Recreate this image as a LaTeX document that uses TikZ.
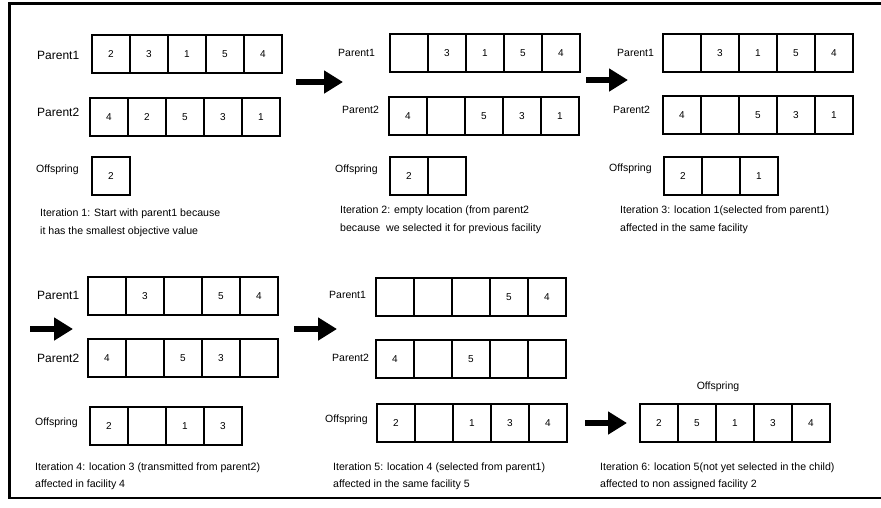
\documentclass[tikz,border=0pt]{standalone}
\usepackage{fontspec}
\setmainfont{Liberation Sans}
\usetikzlibrary{arrows.meta}

% one row of chromosome cells: name prefix, left x, top y, list of genes
\newcommand\generow[4]{%
  \foreach \g [count=\k] in {#4} {%
    \node[cell] (#1-\k) at ({#2+38*(\k-1)}, #3) {\g};
  }%
}

\begin{document}
\begin{tikzpicture}[x=1pt,y=-1pt,
  cell/.style={draw=black, line width=2.5pt, minimum width=38pt, minimum height=38pt,
    inner sep=0pt, outer sep=0pt, anchor=north west, font=\fontsize{10}{12}\selectfont},
  rowlabel/.style={anchor=west, inner sep=0pt, font=\fontsize{10.5}{13}\selectfont},
  widelabel/.style={rowlabel, font=\fontsize{12}{14}\selectfont},
  caption/.style={anchor=west, align=left, inner sep=0pt, font=\fontsize{10.6}{17.5}\selectfont},
  flow/.style={line width=6.5pt, -{Triangle[length=19pt,width=22pt]}},
  frame/.style={line width=2.5pt}]
\useasboundingbox (0,0) rectangle (881,507);

% outer frame (open on the right)
\coordinate (fTR) at (881,3.5);
\coordinate (fTL) at (9.5,3.5);
\coordinate (fBL) at (9.5,498);
\coordinate (fBR) at (881,498);
\draw[frame] (fTR) -- (fTL) -- (fBL) -- (fBR);

% ---------- iteration 1 ----------
\node[widelabel] (a-l1) at (37,55) {Parent1};
\node[widelabel] (a-l2) at (37,112) {Parent2};
\node[rowlabel] (a-l3) at (36,170) {Offspring};
\generow{a-p1}{92}{35}{2,3,1,5,4}
\generow{a-p2}{90}{98}{4,2,5,3,1}
\generow{a-o}{92}{157}{2}
\node[caption] (a-t) at (40,223) {Iteration 1: Start with parent1 because\\it has the smallest objective value};

% ---------- iteration 2 ----------
\node[rowlabel] (b-l1) at (338,53) {Parent1};
\node[rowlabel] (b-l2) at (342,110) {Parent2};
\node[rowlabel] (b-l3) at (335,170) {Offspring};
\generow{b-p1}{390}{34}{{},3,1,5,4}
\generow{b-p2}{389}{97}{4,{},5,3,1}
\generow{b-o}{390}{157}{2,{}}
\node[caption] (b-t) at (340,220) {Iteration 2: empty location (from parent2\\because\ \ we selected it for previous facility};

% ---------- iteration 3 ----------
\node[rowlabel] (c-l1) at (617,53) {Parent1};
\node[rowlabel] (c-l2) at (613,110) {Parent2};
\node[rowlabel] (c-l3) at (609,169) {Offspring};
\generow{c-p1}{663}{34}{{},3,1,5,4}
\generow{c-p2}{663}{96}{4,{},5,3,1}
\generow{c-o}{664}{157}{2,{},1}
\node[caption] (c-t) at (620,220) {Iteration 3: location 1(selected from parent1)\\affected in the same facility};

% ---------- iteration 4 ----------
\node[widelabel] (d-l1) at (37,295) {Parent1};
\node[widelabel] (d-l2) at (37,358) {Parent2};
\node[rowlabel] (d-l3) at (35,423) {Offspring};
\generow{d-p1}{88}{277}{{},3,{},5,4}
\generow{d-p2}{88}{339}{4,{},5,3,{}}
\generow{d-o}{90}{407}{2,{},1,3}
\node[caption] (d-t) at (35,476) {Iteration 4: location 3 (transmitted from parent2)\\affected in facility 4};

% ---------- iteration 5 ----------
\node[rowlabel] (e-l1) at (329,295) {Parent1};
\node[rowlabel] (e-l2) at (332,358) {Parent2};
\node[rowlabel] (e-l3) at (325,420) {Offspring};
\generow{e-p1}{376}{278}{{},{},{},5,4}
\generow{e-p2}{376}{340}{4,{},5,{},{}}
\generow{e-o}{377}{404}{2,{},1,3,4}
\node[caption] (e-t) at (333,476) {Iteration 5: location 4 (selected from parent1)\\affected in the same facility 5};

% ---------- iteration 6 ----------
\node[rowlabel, anchor=center] (f-l3) at (718,387) {Offspring};
\generow{f-o}{640}{404}{2,5,1,3,4}
\node[caption] (f-t) at (600,476) {Iteration 6: location 5(not yet selected in the child)\\affected to non assigned facility 2};

% ---------- step arrows ----------
\coordinate (s1) at (296,82);  \coordinate (e1) at (343,82);
\coordinate (s2) at (586,80);  \coordinate (e2) at (628,80);
\coordinate (s3) at (30,329);  \coordinate (e3) at (73,329);
\coordinate (s4) at (294,329); \coordinate (e4) at (337,329);
\coordinate (s5) at (585,423); \coordinate (e5) at (627,423);
\foreach \n in {1,...,5} { \draw[flow] (s\n) -- (e\n); }
\end{tikzpicture}
\end{document}
